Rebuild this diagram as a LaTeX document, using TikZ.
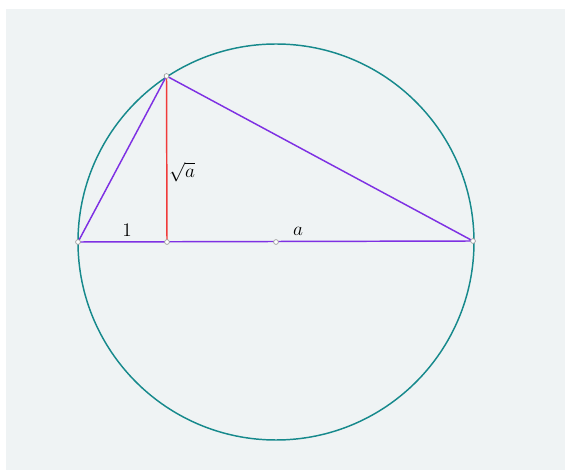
\documentclass[tikz,border=0pt]{standalone}
\usepackage{xcolor}
\usepackage{tikz}
\definecolor{paper}{HTML}{EFF3F4}
\definecolor{ring}{HTML}{16898C}
\definecolor{chord}{HTML}{7E30E3}
\definecolor{height}{HTML}{F03A3A}
\definecolor{dotline}{HTML}{9A9A9A}
\tikzset{
  pt/.style={circle, draw=dotline, fill=white, inner sep=0pt, minimum size=3.6pt, line width=0.5pt},
  lbl/.style={inner sep=1pt, font=\Large}
}

\begin{document}
\begin{tikzpicture}[x=0.75pt,y=-0.75pt]
      \useasboundingbox (0,0) rectangle (565,470);
      \fill[paper] (6,9) rectangle (565,470);
      \draw[ring, line width=1.1pt] (276,242) circle (198);
      \coordinate (A) at (78,242);
      \coordinate (B) at (473,241);
      \coordinate (C) at (166.5,76);
      \coordinate (D) at (167,242);
      \coordinate (O) at (276,242);
      \draw[height, line width=1.1pt] (C) -- (D);
      \draw[chord, line width=1.1pt] (A) -- (C) -- (B) -- (A);
      \node[pt] (a) at (A) {};
      \node[pt] (b) at (B) {};
      \node[pt] (c) at (C) {};
      \node[pt] (d) at (D) {};
      \node[pt] (o) at (O) {};
      \node[lbl] (one) at (127,230) {1};
      \node[lbl] (root) at (182,172) {$\sqrt{a}$};
      \node[lbl] (len) at (298,231) {$a$};
    \end{tikzpicture}
\end{document}
